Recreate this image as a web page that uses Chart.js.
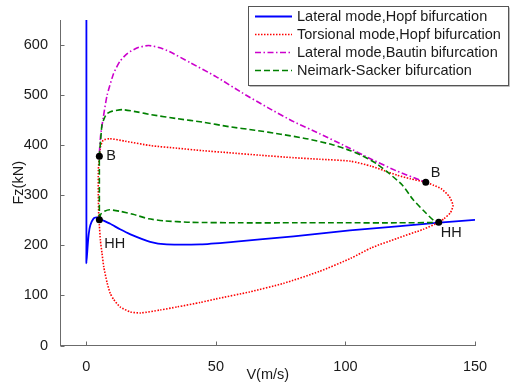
<!DOCTYPE html>
<html>
<head>
<meta charset="utf-8">
<script src="https://cdn.jsdelivr.net/npm/chart.js@4.4.1/dist/chart.umd.min.js"></script>
<style>
  html, body { margin: 0; padding: 0; background: #fff; }
  canvas { display: block; }
</style>
</head>
<body>
<canvas id="c" width="510" height="384"></canvas>
<script>
  // Bifurcation curves, V (m/s) vs Fz (kN)
  const lateralHopfV  = [0, 0, 0, 0, 0, 0.5, 0.9, 1.5, 2.8, 4.1, 5.5, 9.2, 13, 17, 24.6, 31, 44, 56.7, 67, 80, 101.7, 120, 135, 150];
  const lateralHopfFz = [650, 500, 300, 200, 164, 200, 223, 240, 254, 256, 252, 243, 232, 222, 207, 202, 202, 207, 212, 218, 230, 238, 245, 251];

  const torsionalHopfV  = [5, 5.5, 6.5, 9, 15, 25, 35, 45, 55, 67, 80, 90, 102, 110, 115, 120, 125, 131, 134, 137, 140, 141.5, 140.5, 138, 136, 130, 120, 110, 102, 90, 76, 63, 50, 44, 35, 28.5, 21, 17, 13, 10.5, 9.2, 8, 6.7, 6, 5.4, 5, 4.8, 4.6, 4.6, 5];
  const torsionalHopfFz = [378, 398, 410, 413, 408, 399, 394, 389, 385, 380, 375, 372, 368, 358, 349, 340, 333, 326, 320, 313, 298, 280, 265, 253, 246, 232, 214, 195, 174, 148, 124, 107, 93, 86, 77, 71, 65, 67, 77, 92, 104, 125, 157, 185, 210, 240, 251, 300, 350, 378];

  const lateralBautinV  = [5, 5.5, 6.5, 8, 10.5, 13, 16, 20, 24, 28, 32, 40, 50, 60, 70, 80, 90, 100, 110, 120, 131];
  const lateralBautinFz = [385, 420, 455, 500, 543, 568, 584, 595, 599, 595, 587, 565, 537, 505, 475, 447, 423, 398, 372, 348, 326];

  const neimarkSackerV  = [5, 5, 5, 5, 5.5, 6, 7, 8, 10, 14, 20, 25, 35, 45, 55, 65, 75, 85, 95, 102, 108, 112, 117, 122, 126, 130, 134, 136, 120, 100, 80, 60, 40, 30, 24, 18, 13, 9, 7, 5.5, 5];
  const neimarkSackerFz = [251, 300, 350, 378, 410, 440, 455, 463, 468, 471, 466, 461, 453, 446, 437, 430, 422, 413, 401, 389, 375, 363, 343, 320, 292, 270, 250, 246, 245, 245, 245, 245, 246, 249, 253, 262, 268, 271, 268, 262, 251];

  const markerV      = [5, 5, 131, 136];
  const markerFz     = [378, 251, 326, 246];
  const markerLabels = ['B', 'HH', 'B', 'HH'];

  const xTicks = [0, 50, 100, 150];
  const yTicks = [0, 100, 200, 300, 400, 500, 600];

  const seriesNames = [
    'Lateral mode,Hopf bifurcation',
    'Torsional mode,Hopf bifurcation',
    'Lateral mode,Bautin bifurcation',
    'Neimark-Sacker bifurcation',
  ];

  // label offsets from the dot (px)
  const labelOffsets = [[7, 0], [5, 24], [5, -9], [2, 11]];

  const FONT = 'Liberation Sans, Arial, sans-serif';
  const FS = 14.5;
  const AXIS = '#6b6b6b';
  const TEXT = '#1a1a1a';

  const pts = (xs, ys) => xs.map((v, i) => ({ x: v, y: ys[i] }));

  function curve(label, xs, ys, color, dash, width, order) {
    return {
      label,
      data: pts(xs, ys),
      showLine: true,
      borderColor: color,
      backgroundColor: color,
      borderWidth: width,
      borderDash: dash,
      pointRadius: 0,
      tension: 0.2,
      order,
    };
  }

  const datasets = [
    curve(seriesNames[0], lateralHopfV, lateralHopfFz, '#0000ff', [], 1.8, 5),
    curve(seriesNames[1], torsionalHopfV, torsionalHopfFz, '#ff0000', [1.5, 1.5], 1.6, 4),
    curve(seriesNames[2], lateralBautinV, lateralBautinFz, '#cc00cc', [6, 2.5, 1.5, 2.5], 1.6, 3),
    curve(seriesNames[3], neimarkSackerV, neimarkSackerFz, '#008000', [6, 3], 1.6, 2),
    {
      label: 'points',
      data: pts(markerV, markerFz),
      showLine: false,
      pointRadius: 3.5,
      pointBackgroundColor: '#000',
      pointBorderColor: '#000',
      pointBorderWidth: 0,
      order: 0,
    },
  ];

  // inward tick marks, like the original figure
  const innerTicks = {
    id: 'innerTicks',
    afterDraw(chart) {
      const { ctx, scales: { x, y } } = chart;
      const a = chart.chartArea;
      ctx.save();
      ctx.strokeStyle = AXIS;
      ctx.lineWidth = 1;
      ctx.beginPath();
      xTicks.forEach((v) => {
        const px = Math.round(x.getPixelForValue(v)) + 0.5;
        ctx.moveTo(px, a.bottom);
        ctx.lineTo(px, a.bottom - 4);
      });
      yTicks.forEach((v) => {
        const py = Math.round(y.getPixelForValue(v)) + 0.5;
        ctx.moveTo(a.left, py);
        ctx.lineTo(a.left + 4, py);
      });
      ctx.stroke();
      ctx.restore();
    },
  };

  const pointLabels = {
    id: 'pointLabels',
    afterDatasetsDraw(chart) {
      const { ctx, scales: { x, y } } = chart;
      ctx.save();
      ctx.font = `${FS}px ${FONT}`;
      ctx.fillStyle = TEXT;
      ctx.textAlign = 'left';
      ctx.textBaseline = 'middle';
      markerLabels.forEach((t, i) => {
        const px = x.getPixelForValue(markerV[i]) + labelOffsets[i][0];
        const py = y.getPixelForValue(markerFz[i]) + labelOffsets[i][1];
        ctx.fillText(t, px, py);
      });
      ctx.restore();
    },
  };

  const boxLegend = {
    id: 'boxLegend',
    afterDraw(chart) {
      const ctx = chart.ctx;
      const L = 248.5, T = 6.5, R = 508.5, B = 85.5;
      ctx.save();
      ctx.fillStyle = '#fff';
      ctx.fillRect(L, T, R - L, B - T);
      ctx.strokeStyle = '#bdbdbd';
      ctx.lineWidth = 1;
      ctx.beginPath();
      ctx.moveTo(L + 1, B + 1); ctx.lineTo(R + 1, B + 1); ctx.lineTo(R + 1, T + 1);
      ctx.stroke();
      ctx.strokeStyle = '#555';
      ctx.strokeRect(L, T, R - L, B - T);
      ctx.font = `${FS}px ${FONT}`;
      ctx.textBaseline = 'middle';
      ctx.textAlign = 'left';
      seriesNames.forEach((name, i) => {
        const ds = chart.data.datasets[i];
        const yy = 16.5 + i * 18;
        ctx.strokeStyle = ds.borderColor;
        ctx.lineWidth = ds.borderWidth;
        ctx.setLineDash(ds.borderDash);
        ctx.beginPath();
        ctx.moveTo(255, yy);
        ctx.lineTo(292, yy);
        ctx.stroke();
        ctx.setLineDash([]);
        ctx.fillStyle = TEXT;
        ctx.fillText(name, 297, yy);
      });
      ctx.restore();
    },
  };

  new Chart(document.getElementById('c'), {
    type: 'scatter',
    data: { datasets },
    options: {
      responsive: false,
      animation: false,
      layout: { padding: { top: 20, right: 35, left: 0, bottom: 0 } },
      plugins: {
        legend: { display: false },
        tooltip: { enabled: false },
      },
      scales: {
        x: {
          type: 'linear',
          min: -10,
          max: 150,
          afterBuildTicks: (s) => { s.ticks = xTicks.map((v) => ({ value: v })); },
          afterFit: (s) => { s.height = 38.5; },
          grid: { display: false },
          border: { display: true, color: AXIS, width: 1 },
          ticks: { color: TEXT, font: { family: FONT, size: FS }, padding: 5, maxRotation: 0 },
          title: { display: true, text: 'V(m/s)', color: TEXT, font: { family: FONT, size: FS }, padding: { top: 0, bottom: 0 } },
        },
        y: {
          type: 'linear',
          min: 0,
          max: 650,
          afterBuildTicks: (s) => { s.ticks = yTicks.map((v) => ({ value: v })); },
          afterFit: (s) => { s.width = 60.5; },
          grid: { display: false },
          border: { display: true, color: AXIS, width: 1 },
          ticks: { color: TEXT, font: { family: FONT, size: FS }, padding: 4.5 },
          title: { display: true, text: 'Fz(kN)', color: TEXT, font: { family: FONT, size: FS }, padding: { top: 10, bottom: 0 } },
        },
      },
    },
    plugins: [innerTicks, pointLabels, boxLegend],
  });
</script>
</body>
</html>
